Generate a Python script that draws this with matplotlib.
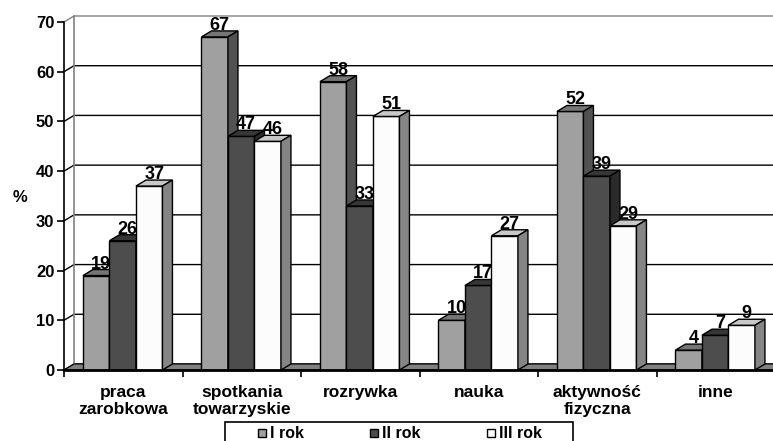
import numpy as np
import matplotlib.pyplot as plt
from matplotlib.patches import Polygon, Rectangle

categories = ["praca\nzarobkowa", "spotkania\ntowarzyskie", "rozrywka",
              "nauka", "aktywność\nfizyczna", "inne"]
series = ["I rok", "II rok", "III rok"]
rok1 = [19, 67, 58, 10, 52, 4]
rok2 = [26, 47, 33, 17, 39, 7]
rok3 = [37, 46, 51, 27, 29, 9]

front = ["#a0a0a0", "#4d4d4d", "#fcfcfc"]
top = ["#757575", "#363636", "#c8c8c8"]
side = ["#525252", "#2a2a2a", "#858585"]

plt.rcParams["font.family"] = ["Liberation Sans", "DejaVu Sans"]
plt.rcParams["font.weight"] = "bold"

W, H = 773, 441
fig = plt.figure(figsize=(W / 100, H / 100), dpi=100)
ax = fig.add_axes([64 / W, 71 / H, 711 / W, 348 / H])

n = len(categories)
ymax = 70
ax.set_xlim(0, n)
ax.set_ylim(0, ymax)

# depth offset of the pseudo-3d look, in data units
dx = 10 / 118.5
dy = 6 / (348 / ymax)

# back wall grid + left wall diagonals
for v in range(0, ymax + 1, 10):
    c = "#808080" if v == ymax else "black"
    ax.plot([0, dx, n + dx], [v, v + dy, v + dy], color=c, lw=1,
            clip_on=False, zorder=1)
ax.plot([dx, dx], [dy, ymax + dy], color="#808080", lw=1.2, clip_on=False, zorder=1)

# floor
ax.add_patch(Polygon([(0, 0), (n, 0), (n + dx, dy), (dx, dy)], closed=True,
                     facecolor="#808080", edgecolor="black", lw=0.8,
                     clip_on=False, zorder=1))

x = np.arange(n)
bw = 0.2236
offs = [0.16, 0.16 + bw, 0.16 + 2 * bw]
values = [rok1, rok2, rok3]

for gi in range(n):
    for si in range(3):
        h = values[si][gi]
        left = x[gi] + offs[si]
        z = 2 + gi * 3 + si
        ax.bar(left, h, width=bw, align="edge", color=front[si],
               edgecolor="black", lw=1, zorder=z, clip_on=False)
        r = left + bw
        ax.add_patch(Polygon([(left, h), (r, h), (r + dx, h + dy), (left + dx, h + dy)],
                             closed=True, facecolor=top[si], edgecolor="black",
                             lw=1, zorder=z, clip_on=False))
        ax.add_patch(Polygon([(r, 0), (r, h), (r + dx, h + dy), (r + dx, dy)],
                             closed=True, facecolor=side[si], edgecolor="black",
                             lw=1, zorder=z, clip_on=False))
        ax.text(left + bw / 2 + dx / 2, h + dy - 0.6, str(h), ha="center",
                va="bottom", fontsize=13, fontweight="bold", zorder=100)

for s in ["top", "right"]:
    ax.spines[s].set_visible(False)
ax.spines["left"].set_linewidth(1.2)
ax.spines["bottom"].set_linewidth(2)
ax.spines["left"].set_zorder(60)
ax.spines["bottom"].set_zorder(60)

ax.set_yticks(range(0, ymax + 1, 10))
ax.tick_params(axis="y", length=5, width=1.2, labelsize=12, pad=2)
for lab in ax.get_yticklabels():
    lab.set_fontweight("bold")

ax.set_xticks(x + 0.5)
ax.set_xticklabels(categories, fontsize=12.5, fontweight="bold", linespacing=1.15)
ax.set_xticks(np.arange(n + 1), minor=True)
ax.tick_params(axis="x", which="major", length=0, pad=11)
ax.tick_params(axis="x", which="minor", length=5, width=1.2)

fig.text(20 / W, 1 - 197 / H, "%", ha="center", va="center", fontsize=12,
         fontweight="bold")

# legend box along the bottom edge
fig.add_artist(Rectangle((225 / W, -0.05), 348 / W, 0.05 + 19 / H,
                         transform=fig.transFigure, facecolor="white",
                         edgecolor="black", lw=1.2))
lx = [258, 370, 487]
for si, name in enumerate(series):
    fig.add_artist(Rectangle((lx[si] / W, 1 - 437 / H), 8 / W, 8 / H,
                             transform=fig.transFigure, facecolor=front[si],
                             edgecolor="black", lw=1))
    fig.text((lx[si] + 12) / W, 1 - 433 / H, name, ha="left", va="center",
             fontsize=11.5, fontweight="bold")

fig.savefig("out.png", dpi=100)
